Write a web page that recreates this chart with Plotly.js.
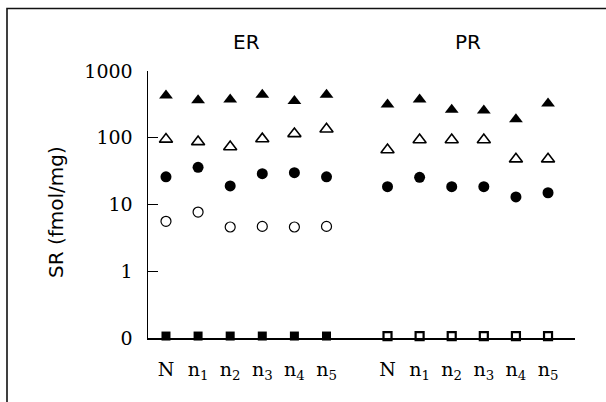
<!DOCTYPE html>
<html>
<head>
<meta charset="utf-8">
<script src="https://cdn.plot.ly/plotly-3.0.1.min.js"></script>
<style>
  html, body { margin: 0; padding: 0; background: #fff; }
  #chart { width: 606px; height: 402px; }
</style>
</head>
<body>
<div id="chart"></div>
<script>
// ---- data ----
const groups = ["ER", "PR"];
const categories = ["N", "n1", "n2", "n3", "n4", "n5"];
const tickLabels = ["N", "n<sub>1</sub>", "n<sub>2</sub>", "n<sub>3</sub>", "n<sub>4</sub>", "n<sub>5</sub>"];

// SR (fmol/mg) per category, ER receptor
const ER_filledTriangle = [430, 365, 375, 440, 355, 440];
const ER_openTriangle   = [95, 87, 73, 96, 115, 135];
const ER_filledCircle   = [26, 36, 19, 29, 30, 26];
const ER_openCircle     = [5.6, 7.7, 4.6, 4.7, 4.6, 4.7];
const ER_zero           = [0, 0, 0, 0, 0, 0];

// SR (fmol/mg) per category, PR receptor
const PR_filledTriangle = [315, 375, 262, 255, 190, 325];
const PR_openTriangle   = [66, 93, 93, 93, 48, 48];
const PR_filledCircle   = [18.5, 25.5, 18.5, 18.5, 13, 15];
const PR_zero           = [0, 0, 0, 0, 0, 0];

const yTickVals = [1000, 100, 10, 1, 0.1];
const yTickText = ["1000", "100", "10", "1", "0"];

// ---- layout helpers (positions) ----
const GROUP_OFFSET = 6.9;      // x offset of the PR group
const ZERO_AT = 0.107;         // where value 0 is drawn on the broken log axis
const xER = categories.map((c, i) => i);
const xPR = categories.map((c, i) => i + GROUP_OFFSET);
const z = v => v.map(d => (d === 0 ? ZERO_AT : d));

function tr(x, y, symbol, size, lw) {
  return {
    x: x, y: y, type: "scatter", mode: "markers", showlegend: false,
    hoverinfo: "skip", cliponaxis: false,
    marker: { symbol: symbol, size: size, color: "#000",
              line: { color: "#000", width: lw } }
  };
}

const traces = [
  tr(xER, ER_filledTriangle, "triangle-up", 12, 0),
  tr(xER, ER_openTriangle, "triangle-up-open", 11.5, 1.6),
  tr(xER, ER_filledCircle, "circle", 11, 0),
  tr(xER, ER_openCircle, "circle-open", 10, 1.2),
  tr(xER, z(ER_zero), "square", 9, 0),
  tr(xPR, PR_filledTriangle, "triangle-up", 12, 0),
  tr(xPR, PR_openTriangle, "triangle-up-open", 11.5, 1.6),
  tr(xPR, PR_filledCircle, "circle", 11, 0),
  tr(xPR, z(PR_zero), "square-open", 8, 2.2)
];

const L = 148, R = 575, T = 71, B = 338;
const W = 606, H = 402;
const px = x => (x - L) / (R - L);
const py = y => (B - y) / (B - T);

const layout = {
  width: W, height: H,
  margin: { l: L, r: W - R, t: T, b: H - B, pad: 0 },
  paper_bgcolor: "#fff", plot_bgcolor: "#fff",
  font: { family: "DejaVu Serif, serif", color: "#000" },
  xaxis: {
    range: [-0.56, 12.74],
    showgrid: false, zeroline: false,
    showline: true, linecolor: "#000", linewidth: 1.5,
    tickmode: "array",
    tickvals: xER.concat(xPR),
    ticktext: tickLabels.concat(tickLabels),
    ticks: "outside", ticklen: 14, tickcolor: "rgba(0,0,0,0)",
    tickfont: { family: "DejaVu Serif, serif", size: 19, color: "#000" }
  },
  yaxis: {
    type: "log",
    range: [-1, 3],
    showgrid: false, zeroline: false,
    showline: true, linecolor: "#000", linewidth: 1.5,
    tickmode: "array", tickvals: yTickVals, ticktext: yTickText,
    ticks: "inside", ticklen: 10, tickwidth: 1.3, tickcolor: "#000",
    ticklabelstandoff: 10,
    tickfont: { family: "DejaVu Serif, serif", size: 19, color: "#000" }
  },
  annotations: [
    { text: groups[0], xref: "x", yref: "paper", x: 2.5, y: py(42),
      showarrow: false, xanchor: "center", yanchor: "middle",
      font: { family: "DejaVu Sans, sans-serif", size: 20, color: "#000" } },
    { text: groups[1], xref: "x", yref: "paper", x: 2.5 + GROUP_OFFSET, y: py(42),
      showarrow: false, xanchor: "center", yanchor: "middle",
      font: { family: "DejaVu Sans, sans-serif", size: 20, color: "#000" } },
    { text: "SR (fmol/mg)", xref: "paper", yref: "paper", x: px(56), y: py(212),
      textangle: -90, showarrow: false, xanchor: "center", yanchor: "middle",
      font: { family: "DejaVu Sans, sans-serif", size: 20, color: "#000" } }
  ],
  shapes: [
    { type: "path", xref: "paper", yref: "paper",
      path: "M " + px(7) + " " + py(420) + " L " + px(7) + " " + py(8.5) + " L " + px(620) + " " + py(8.5),
      line: { color: "#111", width: 1.6 } }
  ]
};

Plotly.newPlot("chart", traces, layout, { displayModeBar: false, staticPlot: true });
</script>
</body>
</html>
